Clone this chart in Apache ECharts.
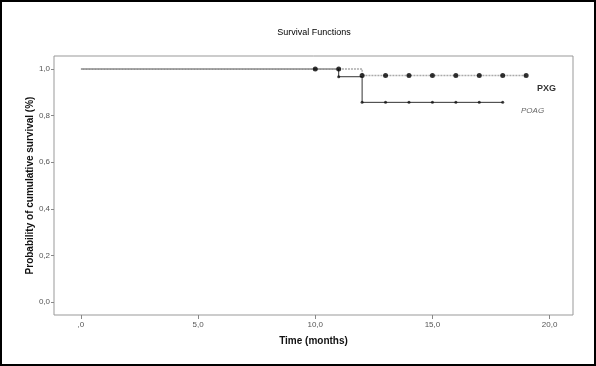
<!DOCTYPE html>
<html>
<head>
<meta charset="utf-8">
<script src="https://cdn.jsdelivr.net/npm/echarts@6/dist/echarts.min.js"></script>
<style>
  html, body { margin: 0; padding: 0; background: #fff; }
  #frame { width: 596px; height: 366px; box-sizing: border-box; border: 2px solid #000; position: relative; }
  #chart { position: absolute; left: -2px; top: -2px; width: 596px; height: 366px; }
</style>
</head>
<body>
<div id="frame"><div id="chart"></div></div>
<script>
// Kaplan-Meier steps (time in months, cumulative survival)
const pxgSteps = [[0, 1.0], [12, 0.972], [19, 0.972]];
const poagSteps = [[0, 1.0], [11, 0.967], [12, 0.857], [18, 0.857]];
// censored observations
const pxgCensored = [[10, 1.0], [11, 1.0], [12, 0.972], [13, 0.972], [14, 0.972], [15, 0.972], [16, 0.972], [17, 0.972], [18, 0.972], [19, 0.972]];
const poagCensored = [[11, 0.967], [12, 0.857], [13, 0.857], [14, 0.857], [15, 0.857], [16, 0.857], [17, 0.857], [18, 0.857]];
const xTicks = [0, 5, 10, 15, 20];
const yTicks = [0, 0.2, 0.4, 0.6, 0.8, 1.0];

const chart = echarts.init(document.getElementById('chart'));
const tickLabelStyle = { color: '#555', fontSize: 8, fontFamily: 'Liberation Sans' };

const option = {
    backgroundColor: 'transparent',
    animation: false,
    title: {
        text: 'Survival Functions',
        left: 309,
        top: 23,
        textAlign: 'center',
        textStyle: { fontSize: 9, fontWeight: 'normal', color: '#000', fontFamily: 'Liberation Sans' }
    },
    grid: {
        left: 54,
        top: 56,
        right: 23,
        bottom: 51,
        show: true,
        borderColor: '#999',
        borderWidth: 1,
        backgroundColor: 'transparent'
    },
    xAxis: {
        type: 'value',
        min: -1.15,
        max: 21,
        name: 'Time (months)',
        nameLocation: 'middle',
        nameGap: 21,
        nameMoveOverlap: false,
        nameTextStyle: { fontSize: 10, fontWeight: 'bold', color: '#111', fontFamily: 'Liberation Sans' },
        axisLine: { show: false, onZero: false },
        axisTick: { show: true, customValues: xTicks, length: 4, lineStyle: { color: '#888' } },
        axisLabel: Object.assign({
            customValues: xTicks,
            margin: 6,
            formatter: function (v) { return v === 0 ? ',0' : v.toFixed(1).replace('.', ','); }
        }, tickLabelStyle),
        splitLine: { show: false }
    },
    yAxis: {
        type: 'value',
        min: -0.056,
        max: 1.056,
        name: 'Probability of cumulative survival (%)',
        nameLocation: 'middle',
        nameGap: 19,
        nameMoveOverlap: false,
        nameTextStyle: { fontSize: 10, fontWeight: 'bold', color: '#111', fontFamily: 'Liberation Sans' },
        axisLine: { show: false, onZero: false },
        axisTick: { show: true, customValues: yTicks, length: 3, lineStyle: { color: '#888' } },
        axisLabel: Object.assign({
            customValues: yTicks,
            margin: 4,
            formatter: function (v) { return v.toFixed(1).replace('.', ','); }
        }, tickLabelStyle),
        splitLine: { show: false }
    },
    series: [{
        name: 'POAG',
        type: 'line',
        step: 'end',
        data: poagSteps,
        showSymbol: false,
        lineStyle: { color: '#333', width: 1 },
        z: 2
    }, {
        name: 'PXG',
        type: 'line',
        step: 'end',
        data: pxgSteps,
        showSymbol: false,
        lineStyle: { color: '#aaa', width: 1.4, type: [2, 1] },
        z: 3
    }, {
        name: 'POAG censored',
        type: 'scatter',
        data: poagCensored,
        symbolSize: 3,
        itemStyle: { color: '#111' },
        z: 4
    }, {
        name: 'PXG censored',
        type: 'scatter',
        data: pxgCensored,
        symbolSize: 5,
        itemStyle: { color: '#000' },
        z: 5
    }],
    graphic: [{
        type: 'text',
        left: 537,
        top: 84,
        style: { text: 'PXG', fontSize: 9, fontWeight: 'bold', fill: '#333', fontFamily: 'Liberation Sans' }
    }, {
        type: 'text',
        left: 521,
        top: 107,
        style: { text: 'POAG', fontSize: 8, fontStyle: 'italic', fill: '#666', fontFamily: 'Liberation Sans' }
    }]
};

chart.setOption(option);
</script>
</body>
</html>
